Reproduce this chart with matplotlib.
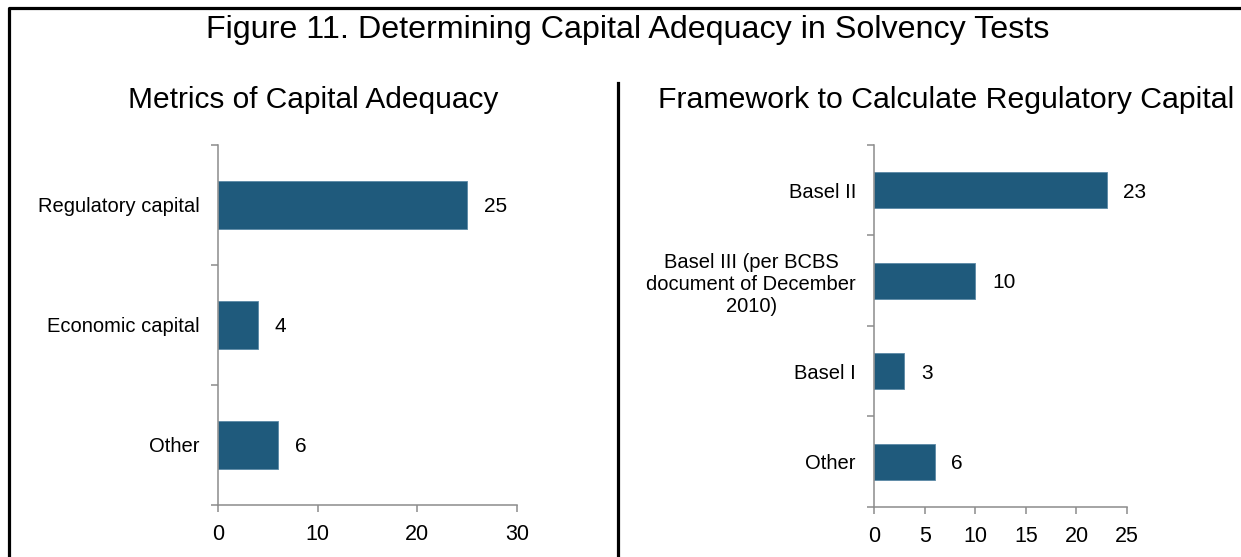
import matplotlib
matplotlib.use("Agg")
import matplotlib.pyplot as plt
from matplotlib.lines import Line2D

plt.rcParams['font.family'] = ['Liberation Sans', 'DejaVu Sans']

# left panel data
metrics = ["Regulatory capital", "Economic capital", "Other"]
metricCounts = [25, 4, 6]

# right panel data
frameworks = ["Basel II", "Basel III (per BCBS\ndocument of December\n2010)", "Basel I", "Other"]
frameworkCounts = [23, 10, 3, 6]

barColor = "#1f5a7c"
axisGray = "#8c8c8c"


def drawPanel(ax, cats, vals, xmax, step):
    pos = list(range(len(cats)))
    ax.barh(pos, vals, height=0.4, color=barColor, edgecolor="#5b89a6", linewidth=0.6)
    ax.set_ylim(len(cats) - 0.5, -0.5)
    ax.set_xlim(0, xmax)
    ax.set_yticks(pos)
    ax.set_yticklabels(cats, multialignment="center")
    ax.set_yticks([p - 0.5 for p in pos] + [len(cats) - 0.5], minor=True)
    ax.tick_params(axis="y", which="major", length=0, pad=13, labelsize=14.5)
    ax.tick_params(axis="y", which="minor", length=5, width=1.1, color=axisGray, direction="out")
    ax.set_xticks(range(0, xmax + 1, step))
    ax.tick_params(axis="x", length=5, width=1.1, color=axisGray, direction="out", labelsize=15.5, pad=9)
    for s in ["top", "right"]:
        ax.spines[s].set_visible(False)
    for s in ["left", "bottom"]:
        ax.spines[s].set_color(axisGray)
        ax.spines[s].set_linewidth(1.1)
    for p, v in zip(pos, vals):
        ax.annotate(str(v), (v, p), xytext=(12, 0), textcoords="offset points",
                    va="center_baseline", ha="left", fontsize=15)


fig = plt.figure(figsize=(12.41, 5.57), dpi=100)

ax1 = fig.add_axes([0.1757, 0.0934, 0.2409, 0.6463])
drawPanel(ax1, metrics, metricCounts, 30, 10)

ax2 = fig.add_axes([0.7043, 0.0898, 0.2039, 0.6499])
drawPanel(ax2, frameworks, frameworkCounts, 25, 5)

fig.text(0.506, 0.946, "Figure 11. Determining Capital Adequacy in Solvency Tests",
         ha="center", va="center", fontsize=23.2)
fig.text(0.252, 0.82, "Metrics of Capital Adequacy", ha="center", va="center", fontsize=21.5)
fig.text(0.762, 0.82, "Framework to Calculate Regulatory Capital", ha="center", va="center", fontsize=21.8)

# frame and separator
fig.add_artist(Line2D([0.0069, 0.0069, 1.0], [0.0, 0.986, 0.986], color="black", linewidth=2.3,
                      transform=fig.transFigure))
fig.add_artist(Line2D([0.4976, 0.4976], [0.0, 0.851], color="black", linewidth=2.3,
                      transform=fig.transFigure))

fig.savefig("out.png", dpi=100)
